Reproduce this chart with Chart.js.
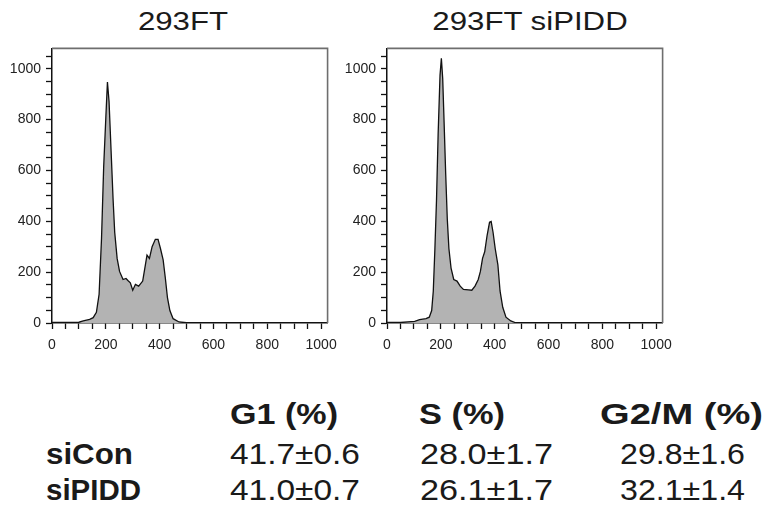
<!DOCTYPE html>
<html>
<head>
<meta charset="utf-8">
<script src="https://cdn.jsdelivr.net/npm/chart.js@4"></script>
<style>
  body { margin: 0; background: #fff; }
  #page { position: relative; width: 770px; height: 509px; overflow: hidden; font-family: Arial, "Liberation Sans", sans-serif; color: #1a1a1a; }
  canvas { position: absolute; }
  .title { position: absolute; top: 8px; font-size: 26px; line-height: 26px; white-space: nowrap; transform: translateX(-50%) scaleX(1.2); }
  .cell { position: absolute; font-size: 30px; line-height: 30px; white-space: nowrap; transform-origin: left center; }
  .b { font-weight: bold; }
</style>
</head>
<body>
<div id="page">
  <div class="title" style="left:183px">293FT</div>
  <div class="title" style="left:530px">293FT siPIDD</div>
  <canvas id="c1" width="345" height="325" style="left:0px;top:35px"></canvas>
  <canvas id="c2" width="345" height="325" style="left:335px;top:35px"></canvas>
  <div id="table"></div>
</div>
<script>
// channel / count pairs
const conX = [0, 50, 100, 116, 140, 153, 165, 175, 184, 192, 200, 206, 212, 221, 227, 233, 242, 251, 264, 275,
  282, 291, 300, 310, 322, 337, 347, 353, 362, 372, 384, 394, 403, 413, 421, 429, 438, 450, 472, 500, 600, 800, 1024];
const conY = [2, 2, 3, 8, 14, 21, 42, 113, 332, 614, 807, 948, 871, 640, 486, 357, 254, 203, 171, 175,
  167, 158, 129, 152, 145, 165, 229, 267, 254, 300, 329, 329, 293, 248, 178, 100, 49, 17, 4, 1, 1, 1, 1];

const pidX = [0, 50, 103, 121, 145, 157, 166, 172, 178, 184, 190, 197, 202, 207, 212, 218, 224, 230, 238, 248,
  260, 272, 284, 303, 315, 327, 339, 347, 355, 363, 372, 381, 387, 394, 402, 412, 420, 430, 442, 460, 478, 500, 600, 800, 1024];
const pidY = [2, 2, 6, 13, 17, 23, 49, 126, 293, 486, 743, 974, 1041, 961, 794, 589, 409, 293, 216, 171,
  165, 145, 132, 130, 129, 145, 171, 203, 254, 280, 345, 396, 399, 357, 293, 229, 126, 62, 23, 8, 1, 1, 1, 1, 1];

const xMax = 1024;
const yMax = 1080;

// table below the histograms
const phases = ["G1 (%)", "S (%)", "G2/M (%)"];
const groups = ["siCon", "siPIDD"];
const g1Vals = ["41.7±0.6", "41.0±0.7"];
const sVals = ["28.0±1.7", "26.1±1.7"];
const g2mVals = ["29.8±1.6", "32.1±1.4"];

const framePlugin = {
  id: 'frame',
  afterDraw(chart) {
    const a = chart.chartArea;
    const ctx = chart.ctx;
    ctx.save();
    ctx.strokeStyle = '#6e6e6e';
    ctx.lineWidth = 1.6;
    ctx.beginPath();
    ctx.moveTo(a.left, a.top);
    ctx.lineTo(a.right, a.top);
    ctx.lineTo(a.right, a.bottom);
    ctx.stroke();
    ctx.restore();
  }
};

function makeHist(id, xs, ys, rightPad) {
  const pts = xs.map((x, i) => ({ x: x, y: ys[i] }));
  const tickFont = { family: 'Arial, "Liberation Sans", sans-serif', size: 14 };
  return new Chart(document.getElementById(id), {
    type: 'line',
    data: {
      datasets: [{
        data: pts,
        fill: 'origin',
        backgroundColor: '#b3b3b3',
        borderColor: '#111',
        borderWidth: 1.3,
        pointRadius: 0,
        tension: 0
      }]
    },
    options: {
      responsive: false,
      animation: false,
      layout: { padding: { left: 0, top: 8, right: rightPad, bottom: 0 } },
      plugins: { legend: { display: false }, tooltip: { enabled: false } },
      scales: {
        x: {
          type: 'linear',
          min: 0,
          max: xMax,
          grid: { drawOnChartArea: false, tickLength: 6, tickColor: '#111', tickWidth: 1.3 },
          border: { color: '#111', width: 1.5 },
          ticks: {
            stepSize: 50,
            autoSkip: false,
            includeBounds: false,
            maxRotation: 0,
            padding: 8,
            color: '#222',
            font: tickFont,
            callback: v => (v % 200 === 0 ? String(v) : '')
          },
          afterFit: s => { s.height = 37; }
        },
        y: {
          min: 0,
          max: yMax,
          grid: { drawOnChartArea: false, tickLength: 6, tickColor: '#111', tickWidth: 1.3 },
          border: { color: '#111', width: 1.5 },
          ticks: {
            stepSize: 50,
            autoSkip: false,
            includeBounds: false,
            padding: 5,
            color: '#222',
            font: tickFont,
            callback: v => (v % 200 === 0 ? String(v) : '')
          },
          afterFit: s => { s.width = 52; }
        }
      }
    },
    plugins: [framePlugin]
  });
}

makeHist('c1', conX, conY, 13);
makeHist('c2', pidX, pidY, 12);

// build the table as text, stretching each cell to the width seen in the figure
const table = document.getElementById('table');
function addCell(text, left, top, width, cls) {
  const d = document.createElement('div');
  d.className = 'cell ' + cls;
  d.textContent = text;
  d.style.left = left + 'px';
  d.style.top = top + 'px';
  table.appendChild(d);
  const w = d.getBoundingClientRect().width;
  d.style.transform = 'scaleX(' + (width / w).toFixed(3) + ')';
}
const headLeft = [230, 419, 600];
const headWidth = [108, 86, 163];
const colLeft = [230, 420, 620];
const colWidth = [130, 133, 125];
const rowTop = [439, 475];
phases.forEach((p, i) => addCell(p, headLeft[i], 399, headWidth[i], 'b'));
groups.forEach((g, r) => {
  addCell(g, 46, rowTop[r], r === 0 ? 87 : 95, 'b');
  [g1Vals, sVals, g2mVals].forEach((vals, c) => addCell(vals[r], colLeft[c], rowTop[r], colWidth[c], ''));
});
</script>
</body>
</html>
